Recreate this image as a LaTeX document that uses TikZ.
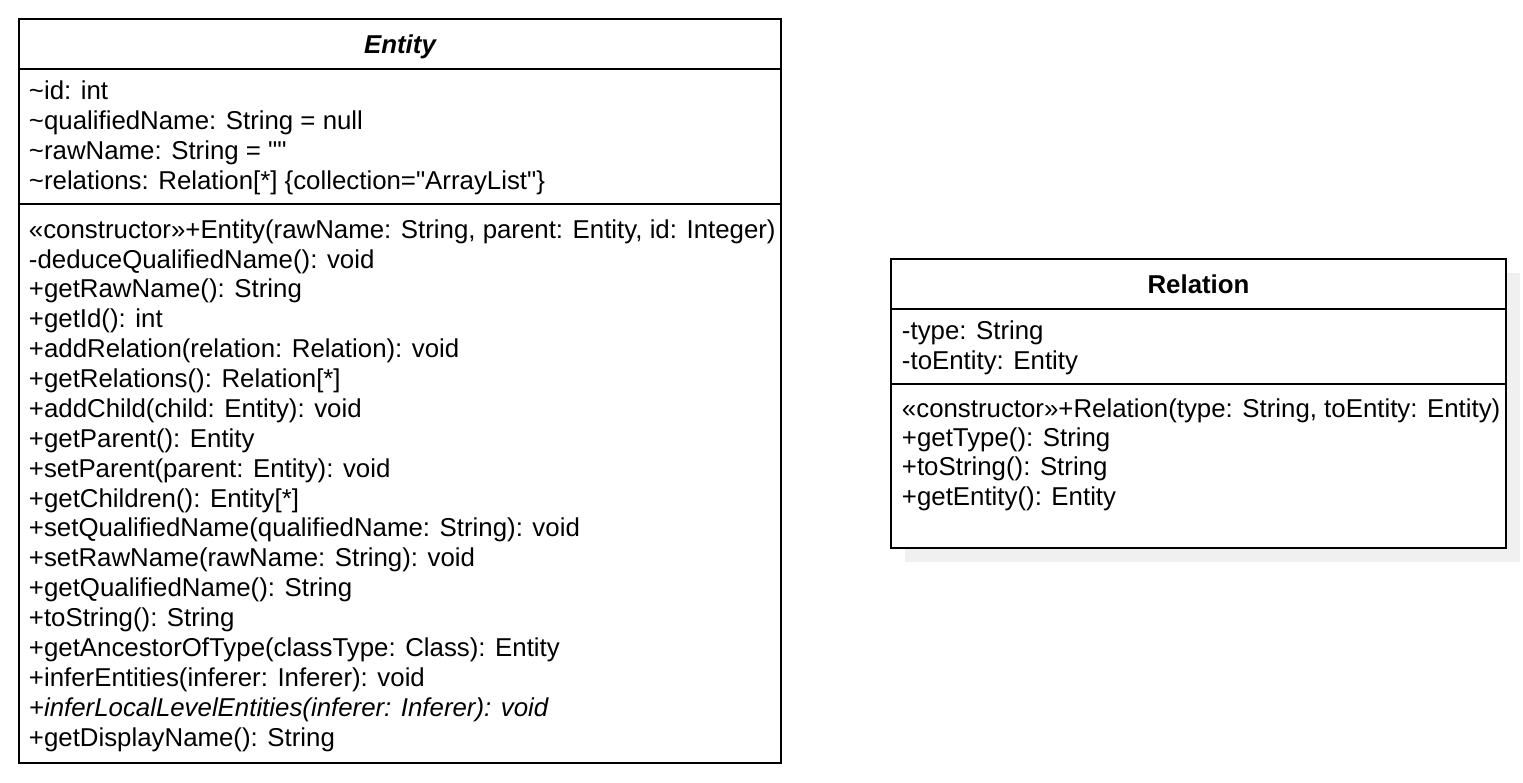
\documentclass[tikz,border=0pt]{standalone}
\usepackage{fontspec}
\setmainfont{Liberation Sans}
\usetikzlibrary{positioning}

\begin{document}
\begin{tikzpicture}[x=0.02cm, y=-0.02cm, line width=1.1pt,
  every node/.style={font=\fontsize{14.7}{17}\selectfont, inner sep=0pt},
  member/.style={anchor=base west, align=left}]
  \useasboundingbox (0,0) rectangle (1523,782);
  % Entity class
  \draw (19,19) rectangle (781,763);
  \draw (19,69) -- (781,69);
  \draw (19,204) -- (781,204);
  \node[anchor=base, font=\fontsize{14.7}{17}\selectfont\bfseries\itshape] (entityname) at (400,53) {Entity};
  % multi-line nodes: base is the last line
  \node[member] (entityattrs) at (28,189) {\textasciitilde id: int\\
    \textasciitilde qualifiedName: String = null\\
    \textasciitilde rawName: String = \textquotedbl\textquotedbl\\
    \textasciitilde relations: Relation[*] \{collection=\textquotedbl ArrayList\textquotedbl\}};
  \node[member] (entityops) at (28,746) {«constructor»+Entity(rawName: String, parent: Entity, id: Integer)\\
    -deduceQualifiedName(): void\\
    +getRawName(): String\\
    +getId(): int\\
    +addRelation(relation: Relation): void\\
    +getRelations(): Relation[*]\\
    +addChild(child: Entity): void\\
    +getParent(): Entity\\
    +setParent(parent: Entity): void\\
    +getChildren(): Entity[*]\\
    +setQualifiedName(qualifiedName: String): void\\
    +setRawName(rawName: String): void\\
    +getQualifiedName(): String\\
    +toString(): String\\
    +getAncestorOfType(classType: Class): Entity\\
    +inferEntities(inferer: Inferer): void\\
    {\itshape +inferLocalLevelEntities(inferer: Inferer): void}\\
    +getDisplayName(): String};
  % Relation class
  \fill[black!6] (905,273) rectangle (1520,562);
  \draw[fill=white] (891,259) rectangle (1506,548);
  \draw (891,309) -- (1506,309);
  \draw (891,384) -- (1506,384);
  \node[anchor=base, font=\fontsize{14.7}{17}\selectfont\bfseries] (relationname) at (1198.5,293) {Relation};
  \node[member] (relationattrs) at (901,369) {-type: String\\
    -toEntity: Entity};
  \node[member, font=\fontsize{14.7}{16.6}\selectfont] (relationops) at (901,505) {«constructor»+Relation(type: String, toEntity: Entity)\\
    +getType(): String\\
    +toString(): String\\
    +getEntity(): Entity};
\end{tikzpicture}
\end{document}
